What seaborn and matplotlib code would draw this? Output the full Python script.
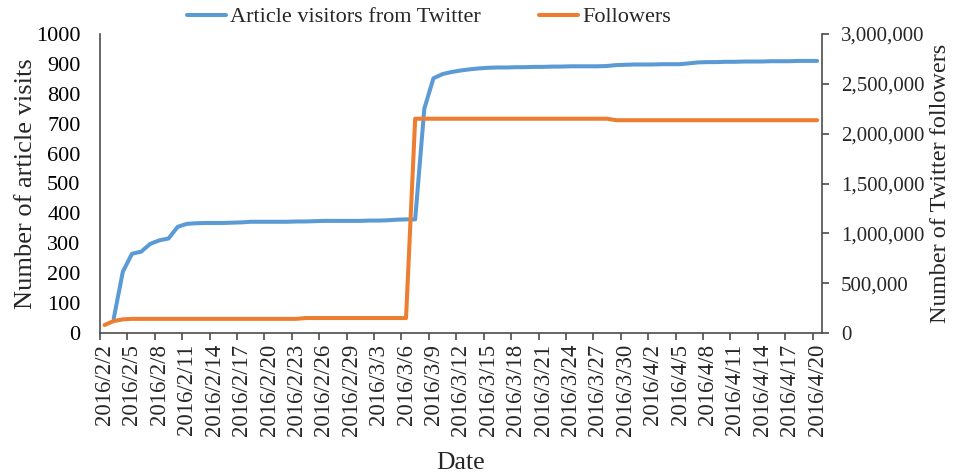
import numpy as np
import pandas as pd
import seaborn as sns
import matplotlib.pyplot as plt
from matplotlib.ticker import FuncFormatter

# daily values, 2016/2/2 .. 2016/4/20
dates = pd.date_range('2016-02-02', '2016-04-20', freq='D')
date_labels = [f"{d.year}/{d.month}/{d.day}" for d in dates]

visitors = [np.nan, 48, 205, 265, 272, 298, 310, 316, 355, 365,
            367, 368, 368, 368, 369, 370, 372, 372, 372, 372,
            372, 373, 373, 374, 375, 375, 375, 375, 375, 376,
            376, 377, 379, 380, 380, 750, 852, 866, 873, 878,
            882, 885, 887, 888, 888, 889, 889, 890, 890, 891,
            891, 892, 892, 892, 892, 893, 896, 897, 898, 898,
            898, 899, 899, 899, 902, 905, 906, 906, 907, 907,
            908, 908, 908, 909, 909, 909, 910, 910, 910]

followers = [80000, 120000, 137000, 142000, 142000, 142000, 142000, 142000, 142000, 142000,
             142000, 142000, 142000, 142000, 142000, 142000, 142000, 142000, 142000, 142000,
             142000, 142000, 150000, 150000, 150000, 150000, 150000, 150000, 150000, 150000,
             150000, 150000, 150000, 150000, 2150000, 2150000, 2150000, 2150000, 2150000, 2150000,
             2150000, 2150000, 2150000, 2150000, 2150000, 2150000, 2150000, 2150000, 2150000, 2150000,
             2150000, 2150000, 2150000, 2150000, 2150000, 2150000, 2135000, 2135000, 2135000, 2135000,
             2135000, 2135000, 2135000, 2135000, 2135000, 2135000, 2135000, 2135000, 2135000, 2135000,
             2135000, 2135000, 2135000, 2135000, 2135000, 2135000, 2135000, 2135000, 2135000]

blue = '#5B9BD5'
orange = '#ED7D31'
axis_col = '#4d4d4d'

sns.set_style('white')
plt.rcParams['font.family'] = ['Liberation Serif', 'DejaVu Serif']

pos = np.arange(len(dates))

fig = plt.figure(figsize=(9.6, 4.76), dpi=100)
ax = fig.add_axes([100 / 960, 1 - 333 / 476, 721.7 / 960, 299 / 476])
ax2 = ax.twinx()

sns.lineplot(x=pos, y=visitors, ax=ax, color=blue, linewidth=2.9,
             label='Article visitors from Twitter')
sns.lineplot(x=pos, y=followers, ax=ax2, color=orange, linewidth=2.9,
             label='Followers')
h1, l1 = ax.get_legend_handles_labels()
h2, l2 = ax2.get_legend_handles_labels()
ax.get_legend().remove()
ax2.get_legend().remove()

ax.set_xlim(-0.5, len(dates) - 0.5)
ax.set_ylim(0, 1000)
ax2.set_ylim(0, 3000000)

ax.set_yticks(np.arange(0, 1001, 100))
ax.tick_params(axis='y', length=0, pad=14, labelsize=16, colors='#000000')
ax2.set_yticks(np.arange(0, 3000001, 500000))
ax2.yaxis.set_major_formatter(FuncFormatter(lambda v, p: f"{int(v):,}"))
ax2.tick_params(axis='y', length=5, width=1.2, direction='out', pad=9,
                labelsize=15, color=axis_col)

ax.set_xticks(pos[::3])
ax.set_xticklabels(date_labels[::3], rotation=90)
ax.set_xticks(pos[::3] - 0.5, minor=True)
ax.tick_params(axis='x', which='major', length=0, pad=8, labelsize=16.5)
ax.tick_params(axis='x', which='minor', length=5, width=1.2, direction='out',
               color=axis_col, bottom=True)

for a in (ax, ax2):
    a.spines['top'].set_visible(False)
    for s in ('left', 'right', 'bottom'):
        a.spines[s].set_color(axis_col)
        a.spines[s].set_linewidth(1.2)
ax.spines['right'].set_visible(False)
ax2.spines['left'].set_visible(False)
ax2.spines['bottom'].set_visible(False)

ax.set_ylabel('Number of article visits', fontsize=19)
ax.yaxis.set_label_coords(-0.087, 0.5)
ax2.set_ylabel('Number of Twitter followers', fontsize=17.5)
ax2.yaxis.set_label_coords(1.150, 0.5)
ax.set_xlabel('Date', fontsize=18.5)
ax.xaxis.set_label_coords(0.5, -0.398)

fig.legend(h1 + h2, l1 + l2, loc='center', bbox_to_anchor=(0.447, 0.964),
           ncol=2, frameon=False, fontsize=16, handlelength=1.75,
           columnspacing=2.6, handletextpad=0.2)

fig.savefig('out.png', dpi=100)
